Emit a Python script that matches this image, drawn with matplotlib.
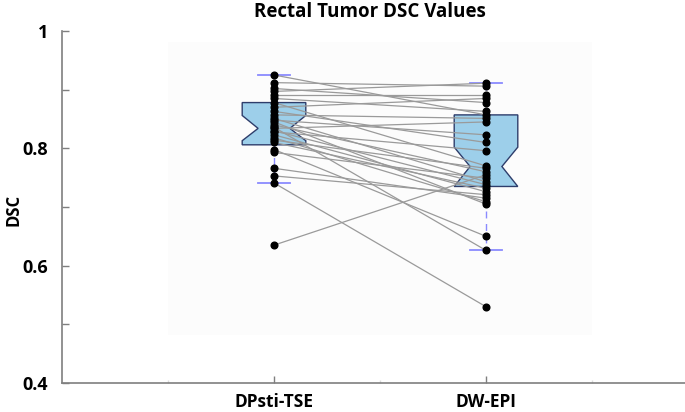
import matplotlib
matplotlib.use("Agg")
import matplotlib.pyplot as plt
from matplotlib.patches import Rectangle

# paired DSC values (same patient on each row)
dpsti_tse = [0.925, 0.912, 0.902, 0.897, 0.891, 0.885, 0.878, 0.870, 0.863, 0.857,
             0.851, 0.848, 0.845, 0.840, 0.836, 0.834, 0.830, 0.828, 0.823, 0.818,
             0.814, 0.810, 0.798, 0.793, 0.766, 0.753, 0.741, 0.635]
dw_epi = [0.857, 0.906, 0.878, 0.911, 0.891, 0.863, 0.770, 0.885, 0.810, 0.851,
          0.743, 0.823, 0.705, 0.760, 0.626, 0.845, 0.738, 0.796, 0.726, 0.709,
          0.766, 0.732, 0.650, 0.749, 0.715, 0.721, 0.530, 0.755]

labels = ["DPsti-TSE", "DW-EPI"]

# box statistics
q1 = [0.806, 0.735]
q3 = [0.878, 0.857]
med = [0.834, 0.769]
ci_lo = [0.813, 0.735]
ci_hi = [0.856, 0.802]
whis_lo = [0.741, 0.626]
whis_hi = [0.925, 0.912]

plt.rcParams["font.family"] = ["Open Sans", "DejaVu Sans"]
plt.rcParams["font.weight"] = "bold"

fig = plt.figure(figsize=(6.85, 4.12), dpi=100)
ax = fig.add_axes([62 / 685, 1 - 383 / 412, 1 - 62 / 685, (383 - 31) / 412])

# faint panel behind the data
ax.add_patch(Rectangle((0.5, 0.482), 2.0, 0.5, facecolor="#fcfcfc",
                       edgecolor="none", zorder=0))

stats = []
for i in range(2):
    stats.append(dict(med=med[i], q1=q1[i], q3=q3[i], cilo=ci_lo[i], cihi=ci_hi[i],
                      whislo=whis_lo[i], whishi=whis_hi[i], fliers=[], label=labels[i]))

ax.bxp(stats, positions=[1, 2], widths=0.3, shownotches=True, patch_artist=True,
       showfliers=False,
       boxprops=dict(facecolor="#9dcfea", edgecolor="#2e3d6b", linewidth=1.0),
       whiskerprops=dict(color="#8a8aff", linestyle=(0, (5, 4)), linewidth=1.0),
       capprops=dict(color="#8a8aff", linewidth=1.3),
       medianprops=dict(linewidth=0),
       zorder=1)

for a, b in zip(dpsti_tse, dw_epi):
    ax.plot([1, 2], [a, b], color="#9a9a9a", linewidth=0.9, zorder=2)

ax.plot([1] * len(dpsti_tse), dpsti_tse, "o", color="black", markersize=4.8, zorder=3)
ax.plot([2] * len(dw_epi), dw_epi, "o", color="black", markersize=4.8, zorder=3)

ax.set_xlim(0, (685 - 62) / 212)
ax.set_ylim(0.4, 1.0)
ax.set_xticks([1, 2])
ax.set_xticklabels(labels, fontsize=12.5, fontweight="bold")
ax.set_xticks([0.5, 1.5, 2.5], minor=True)
ax.set_yticks([0.4, 0.6, 0.8, 1.0])
ax.set_yticklabels(["0.4", "0.6", "0.8", "1"], fontsize=13, fontweight="bold")
ax.set_yticks([0.5, 0.7, 0.9], minor=True)
ax.tick_params(which="both", direction="in", color="#7f7f7f", width=1)
ax.tick_params(which="major", length=5)
ax.tick_params(axis="y", which="minor", length=5)
ax.tick_params(axis="x", which="minor", length=2, color="#dddddd")
ax.tick_params(axis="x", which="major", pad=7)
ax.tick_params(axis="y", which="major", pad=10)

for s in ["top", "right"]:
    ax.spines[s].set_visible(False)
for s in ["left", "bottom"]:
    ax.spines[s].set_color("#7f7f7f")
    ax.spines[s].set_linewidth(1.2)

fig.text(13 / 685, 1 - 210 / 412, "DSC", rotation=90, ha="center", va="center",
         fontsize=12, fontweight="bold")
fig.text(370 / 685, 1 - 12 / 412, "Rectal Tumor DSC Values", ha="center", va="center",
         fontsize=13.5, fontweight="bold")

fig.savefig("out.png", dpi=100)
